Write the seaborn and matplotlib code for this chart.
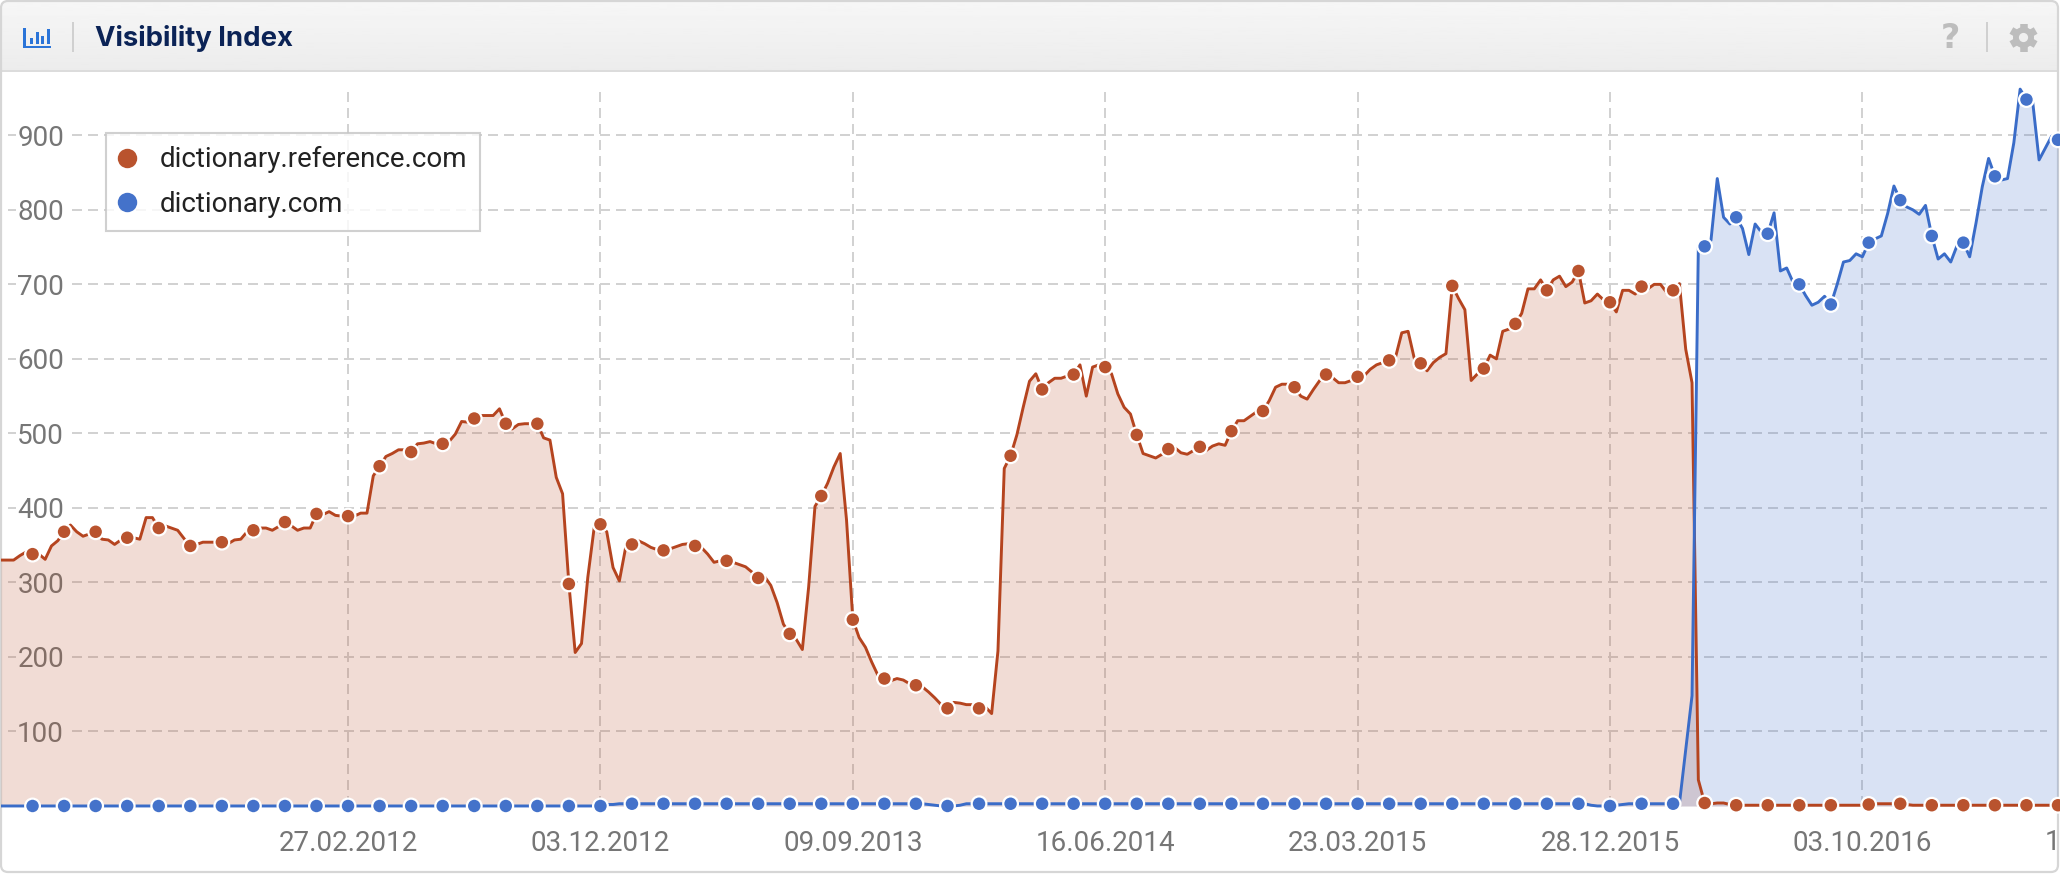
import matplotlib
matplotlib.use("Agg")
import matplotlib.pyplot as plt
import numpy as np
import pandas as pd
import seaborn as sns
from matplotlib.lines import Line2D
from matplotlib.patches import Circle, FancyBboxPatch, Rectangle

# weekly visibility values
start_date = "2011-02-07"
reference_values = [
    330, 330, 330, 336, 341, 338, 338, 331, 349, 356,
    368, 377, 368, 362, 365, 368, 358, 357, 351, 357,
    360, 360, 358, 387, 387, 373, 376, 373, 370, 359,
    349, 351, 354, 354, 354, 354, 352, 357, 358, 368,
    370, 373, 373, 370, 375, 381, 376, 370, 373, 373,
    392, 391, 395, 390, 389, 389, 389, 393, 393, 443,
    456, 469, 473, 478, 478, 475, 486, 487, 489, 486,
    486, 489, 499, 516, 515, 520, 524, 524, 524, 533,
    513, 506, 512, 513, 513, 513, 494, 491, 441, 419,
    298, 206, 218, 307, 373, 378, 368, 320, 302, 347,
    351, 356, 352, 347, 344, 343, 345, 348, 351, 352,
    349, 347, 338, 327, 329, 329, 327, 324, 321, 314,
    306, 308, 296, 273, 244, 231, 224, 210, 294, 402,
    416, 433, 455, 473, 384, 250, 226, 213, 193, 175,
    171, 168, 171, 169, 164, 162, 160, 153, 145, 136,
    131, 139, 138, 136, 136, 131, 133, 124, 208, 453,
    470, 498, 535, 570, 580, 559, 568, 574, 574, 577,
    579, 592, 550, 589, 592, 589, 580, 553, 535, 526,
    498, 473, 470, 467, 472, 479, 481, 474, 472, 477,
    482, 477, 483, 486, 484, 503, 517, 517, 523, 529,
    530, 544, 562, 566, 566, 562, 550, 546, 559, 571,
    579, 575, 568, 568, 571, 576, 577, 586, 592, 595,
    598, 602, 635, 637, 600, 594, 584, 595, 602, 607,
    698, 681, 666, 571, 580, 587, 605, 600, 637, 640,
    647, 661, 694, 694, 706, 692, 706, 711, 697, 703,
    718, 675, 678, 687, 679, 676, 663, 692, 692, 687,
    697, 694, 700, 700, 689, 692, 701, 613, 568, 35,
    4, 3, 4, 4, 2, 1, 1, 1, 1, 1,
    1, 1, 1, 1, 1, 1, 1, 1, 1, 1,
    1, 1, 1, 1, 1, 1, 2, 3, 3, 3,
    3, 3, 2, 1, 1, 1, 1, 1, 1, 1,
    1, 1, 1, 1, 1, 1, 1, 1, 1, 1,
    1, 1, 1, 1, 1, 1, 1,
]
dictionary_values = [
    0, 0, 0, 0, 0, 0, 0, 0, 0, 0,
    0, 0, 0, 0, 0, 0, 0, 0, 0, 0,
    0, 0, 0, 0, 0, 0, 0, 0, 0, 0,
    0, 0, 0, 0, 0, 0, 0, 0, 0, 0,
    0, 0, 0, 0, 0, 0, 0, 0, 0, 0,
    0, 0, 0, 0, 0, 0, 0, 0, 0, 0,
    0, 0, 0, 0, 0, 0, 0, 0, 0, 0,
    0, 0, 0, 0, 0, 0, 0, 0, 0, 0,
    0, 0, 0, 0, 0, 0, 0, 0, 0, 0,
    0, 0, 0, 0, 0, 0, 2, 2, 3, 3,
    3, 3, 3, 3, 3, 3, 3, 3, 3, 3,
    3, 3, 3, 3, 3, 3, 3, 3, 3, 3,
    3, 3, 3, 3, 3, 3, 3, 3, 3, 3,
    3, 3, 3, 3, 3, 3, 3, 3, 3, 3,
    3, 3, 3, 3, 3, 3, 3, 2, 1, 0,
    0, 0, 1, 3, 3, 3, 3, 3, 3, 3,
    3, 3, 3, 3, 3, 3, 3, 3, 3, 3,
    3, 3, 3, 3, 3, 3, 3, 3, 3, 3,
    3, 3, 3, 3, 3, 3, 3, 3, 3, 3,
    3, 3, 3, 3, 3, 3, 3, 3, 3, 3,
    3, 3, 3, 3, 3, 3, 3, 3, 3, 3,
    3, 3, 3, 3, 3, 3, 3, 3, 3, 3,
    3, 3, 3, 3, 3, 3, 3, 3, 3, 3,
    3, 3, 3, 3, 3, 3, 3, 3, 3, 3,
    3, 3, 3, 3, 3, 3, 3, 3, 3, 3,
    3, 3, 1, 0, 0, 0, 1, 2, 3, 3,
    3, 3, 3, 3, 3, 3, 3, 75, 148, 750,
    751, 759, 842, 790, 781, 790, 775, 740, 781, 770,
    768, 796, 718, 722, 703, 700, 685, 672, 676, 684,
    673, 700, 730, 732, 741, 737, 756, 761, 765, 795,
    832, 813, 804, 800, 794, 806, 765, 734, 741, 730,
    752, 756, 737, 782, 831, 869, 845, 840, 842, 890,
    962, 948, 944, 867, 883, 899, 894,
]
series_names = ["dictionary.reference.com", "dictionary.com"]
series_colors = ["#b9532e", "#4472ca"]
line_colors = ["#b5441f", "#3a6cc8"]
marker_rows = [5 * k for k in range(1, 59)] + [296, 301, 306, 311, 316, 321, 326]
y_ticks = [100, 200, 300, 400, 500, 600, 700, 800, 900]
x_ticks = ["2012-02-27", "2012-12-03", "2013-09-09", "2014-06-16",
           "2015-03-23", "2015-12-28", "2016-10-03"]
x_tick_labels = ["27.02.2012", "03.12.2012", "09.09.2013", "16.06.2014",
                 "23.03.2015", "28.12.2015", "03.10.2016"]
clipped_tick = "2017-07-10"
clipped_label = "10.07.2017"
title = "Visibility Index"

W, H = 2060, 874
GRID = "#d2d2d2"
TICK = "#767676"
ICON = "#bdbdbd"

sns.set_theme(style="white")
plt.rcParams["font.family"] = ["Roboto", "DejaVu Sans"]

dates = pd.date_range(start_date, periods=len(reference_values), freq="7D")
df = pd.DataFrame({
    "date": list(dates) * 2,
    "site": [series_names[0]] * len(dates) + [series_names[1]] * len(dates),
    "value": reference_values + dictionary_values,
    "row": list(range(len(dates))) * 2,
})
marks = df[df["row"].isin(marker_rows)]
palette = dict(zip(series_names, line_colors))

fig = plt.figure(figsize=(W / 100, H / 100), dpi=100, facecolor="white")

# card and header, in pixel coordinates
bg = fig.add_axes([0, 0, 1, 1], zorder=0)
bg.set_xlim(0, W)
bg.set_ylim(H, 0)
bg.axis("off")
card = FancyBboxPatch((1, 1), W - 3, H - 3, boxstyle="round,pad=0,rounding_size=7",
                      fc="white", ec="none")
bg.add_patch(card)
shade = np.linspace(0.965, 0.925, 64).reshape(-1, 1)
img = bg.imshow(shade, extent=(1, W - 2, 71, 1), cmap="gray", vmin=0, vmax=1,
                aspect="auto", zorder=1)
img.set_clip_path(card)
bg.set_xlim(0, W)
bg.set_ylim(H, 0)
bg.add_patch(Rectangle((1, 70), W - 3, 2, fc="#dcdcdc", ec="none", zorder=2))

# chart icon
icon = "#2b74d8"
bg.add_patch(Rectangle((23, 28), 2.5, 20, fc=icon, ec="none", zorder=3))
bg.add_patch(Rectangle((23, 45.5), 28, 2.5, fc=icon, ec="none", zorder=3))
for left, top in zip([30, 35.5, 41, 46.5], [38, 32, 36, 29]):
    bg.add_patch(Rectangle((left, top), 3, 43.5 - top, fc=icon, ec="none", zorder=3))
bg.add_patch(Rectangle((72, 22), 2, 30, fc="#d0d0d0", ec="none", zorder=3))
bg.add_patch(Rectangle((1986, 22), 2, 30, fc="#d0d0d0", ec="none", zorder=3))
bg.text(95, 38, title, fontsize=19.8, fontweight="bold", family="Inter",
        color="#0b2356", va="center", ha="left", zorder=3)
bg.text(1950, 38, "?", fontsize=24, fontweight="bold", family="DejaVu Sans",
        color=ICON, va="center", ha="center", zorder=3)

# gear icon
gear_x, gear_y = 2023.5, 37.5
for angle in np.deg2rad([0, 60, 120]):
    dx, dy = 14 * np.sin(angle), 14 * np.cos(angle)
    bg.plot([gear_x - dx, gear_x + dx], [gear_y - dy, gear_y + dy], color=ICON,
            lw=5.4, solid_capstyle="butt", zorder=3)
bg.add_patch(Circle((gear_x, gear_y), 10.5, fc=ICON, ec="none", zorder=3))
bg.add_patch(Circle((gear_x, gear_y), 4.6, fc="#efefef", ec="none", zorder=4))

# the chart itself
ax = fig.add_axes([1 / W, 2 / H, (W - 3) / W, 800 / H], zorder=1)
ax.patch.set_alpha(0)
ax.set_axisbelow(True)
ax.set_xlim(dates[0], dates[-1])
ax.set_ylim(-88.6, 985)

dash = (0, (5, 3))
ax.vlines(pd.to_datetime(x_ticks), 0, 958, color=GRID, lw=1.44, ls=dash, zorder=0.4)
ytrans = ax.get_yaxis_transform()
ax.hlines(y_ticks, 71 / W, 2049 / W, color=GRID, lw=1.44, ls=dash, zorder=0.4, transform=ytrans)
ax.hlines(y_ticks, 7 / W, 15 / W, color=GRID, lw=1.44, zorder=0.4, transform=ytrans)

for name, values, color in zip(series_names, [reference_values, dictionary_values], series_colors):
    ax.fill_between(dates, 0, values, color=color, alpha=0.2, lw=0, zorder=1)

sns.lineplot(data=df, x="date", y="value", hue="site", palette=palette,
             estimator=None, sort=False, lw=2.1, legend=False, ax=ax, zorder=2)
sns.scatterplot(data=marks, x="date", y="value", hue="site",
                palette=dict(zip(series_names, series_colors)),
                s=112, edgecolor="white", linewidth=1.6, legend=False,
                clip_on=False, ax=ax, zorder=3)

ax.set_xlabel("")
ax.set_ylabel("")
ax.set_yticks(y_ticks)
ax.set_xticks(pd.to_datetime(x_ticks))
ax.set_xticklabels(x_tick_labels)
ax.tick_params(axis="y", length=0, pad=-45.4, labelsize=20, labelcolor=TICK)
ax.tick_params(axis="x", length=0, pad=-30, labelsize=20, labelcolor=TICK)
ax.text(pd.to_datetime(clipped_tick), -48.5, clipped_label, fontsize=20, color=TICK,
        ha="center", va="center", clip_on=False)
for spine in ax.spines.values():
    spine.set_visible(False)

handles = [Line2D([], [], ls="none", marker="o", ms=14, mfc=c, mec="none", label=n)
           for n, c in zip(series_names, series_colors)]
leg = ax.legend(handles=handles, loc="upper left", bbox_to_anchor=(105 / W, 1 - 61 / 800),
                borderaxespad=0, frameon=True, fancybox=False, framealpha=0.82,
                edgecolor="#c6c6c6", fontsize=20, handlelength=0.58, handletextpad=0.87,
                borderpad=0.48, labelspacing=0.62, labelcolor="#222222")
leg.get_frame().set_linewidth(1.5)
leg.set_zorder(5)

# card outline on top of the chart
fig.add_artist(FancyBboxPatch((1, 1), W - 3, H - 3, boxstyle="round,pad=0,rounding_size=7",
                              fc="none", ec="#d6d6d6", lw=1.6, transform=bg.transData))

fig.savefig("out.png", dpi=100)
